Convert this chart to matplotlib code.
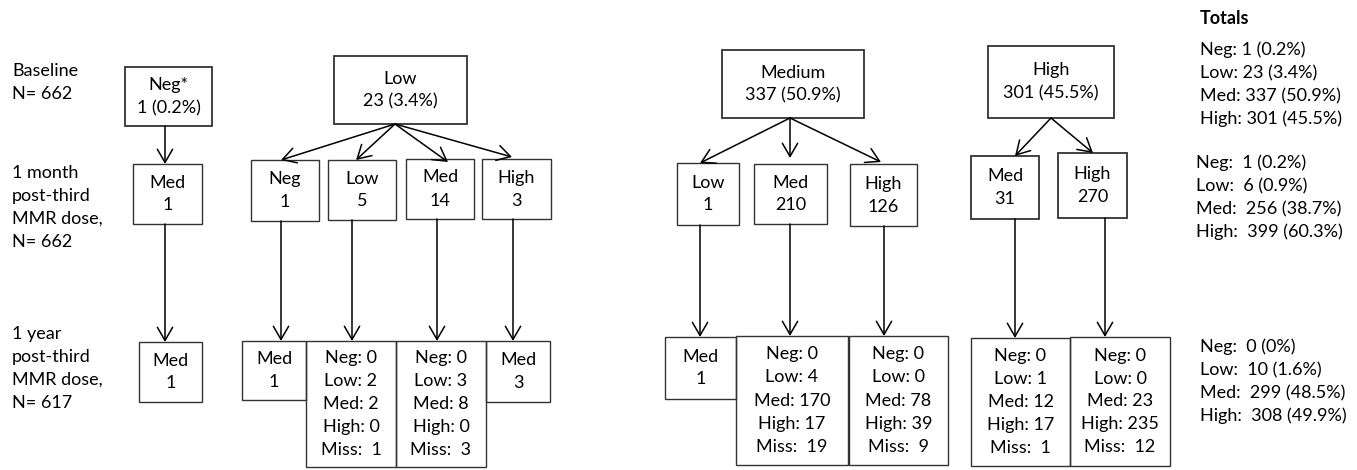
import matplotlib.pyplot as plt
from matplotlib.patches import Rectangle

plt.rcParams['font.family'] = ['Lato', 'DejaVu Sans']

# ---- data ----
base_labels = ["Neg*", "Low", "Medium", "High"]
base_counts = [1, 23, 337, 301]
base_pcts = ["0.2", "3.4", "50.9", "45.5"]

month_labels = [["Med"], ["Neg", "Low", "Med", "High"], ["Low", "Med", "High"], ["Med", "High"]]
month_counts = [[1], [1, 5, 14, 3], [1, 210, 126], [31, 270]]

cats = ["Neg", "Low", "Med", "High", "Miss"]
# one-year outcome per 1-month box: either a single category or a breakdown
year_outcomes = [
    [("Med", 1)],
    [("Med", 1), [0, 2, 2, 0, 1], [0, 3, 8, 0, 3], ("Med", 3)],
    [("Med", 1), [0, 4, 170, 17, 19], [0, 0, 78, 39, 9]],
    [[0, 1, 12, 17, 1], [0, 0, 23, 235, 12]],
]

tot_cats = ["Neg", "Low", "Med", "High"]
tot_base = [1, 23, 337, 301]
tot_base_pct = ["0.2", "3.4", "50.9", "45.5"]
tot_month = [1, 6, 256, 399]
tot_month_pct = ["0.2", "0.9", "38.7", "60.3"]
tot_year = [0, 10, 299, 308]
tot_year_pct = ["0", "1.6", "48.5", "49.9"]

row_labels = [["Baseline", "N= 662"],
              ["1 month", "post-third", "MMR dose,", "N= 662"],
              ["1 year", "post-third", "MMR dose,", "N= 617"]]

# ---- layout (pixel coords, y down) ----
base_boxes = [(125, 67, 212, 126), (334, 56, 467, 124), (722, 50, 864, 118), (988, 46, 1114, 118)]
month_boxes = [
    [(133, 164, 202, 224)],
    [(251, 160, 319, 221), (328, 160, 396, 220), (406, 159, 474, 219), (482, 159, 551, 219)],
    [(677, 163, 739, 225), (754, 164, 827, 224), (850, 164, 917, 226)],
    [(971, 156, 1039, 219), (1058, 153, 1127, 218)],
]
year_boxes = [
    [(139, 342, 202, 402)],
    [(242, 341, 306, 400), (306, 341, 396, 467), (396, 341, 486, 467), (486, 341, 550, 402)],
    [(665, 337, 736, 399), (736, 336, 848, 465), (849, 336, 948, 465)],
    [(971, 338, 1070, 466), (1070, 337, 1170, 466)],
]
base_arrow_src = [(165, 126), (395, 124), (790, 118), (1051, 118)]
month_arrow_tip = [
    [(165, 164)],
    [(281, 160), (356, 160), (448, 162), (512, 157)],
    [(700, 163), (790, 158), (881, 162)],
    [(1015, 156), (1093, 153)],
]
down_x = [[165], [281, 352, 437, 513], [700, 790, 884], [1015, 1105]]

W, H = 1357, 470
fig = plt.figure(figsize=(W / 100, H / 100), dpi=100)
ax = fig.add_axes([0, 0, 1, 1])
ax.set_xlim(0, W)
ax.set_ylim(H, 0)
ax.axis('off')

FS = 13
STEP = 23.0
EC = '#333333'


def lines(x, y_first, texts, ha='left', **kw):
    for k, t in enumerate(texts):
        ax.text(x, y_first + k * STEP, t, ha=ha, va='center', fontsize=FS, **kw)


def box(b, texts, lw=1.0):
    x0, y0, x1, y1 = b
    ax.add_patch(Rectangle((x0, y0), x1 - x0, y1 - y0, fill=False, ec=EC, lw=lw))
    yc = (y0 + y1) / 2 - (len(texts) - 1) * STEP / 2
    lines((x0 + x1) / 2, yc, texts, ha='center')


def arrow(x0, y0, x1, y1):
    ax.annotate("", xy=(x1, y1), xytext=(x0, y0),
                arrowprops=dict(arrowstyle='->,head_length=0.95,head_width=0.55',
                                color='black', lw=1.1, shrinkA=0, shrinkB=0))


# baseline
for i, b in enumerate(base_boxes):
    box(b, [base_labels[i], f"{base_counts[i]} ({base_pcts[i]}%)"], lw=1.3)

# 1 month
for g in range(len(month_boxes)):
    sx, sy = base_arrow_src[g]
    for j, b in enumerate(month_boxes[g]):
        box(b, [month_labels[g][j], str(month_counts[g][j])], lw=1.3 if g == 3 else 1.0)
        tx, ty = month_arrow_tip[g][j]
        arrow(sx, sy, tx, ty)

# 1 year
for g in range(len(year_boxes)):
    for j, b in enumerate(year_boxes[g]):
        out = year_outcomes[g][j]
        if isinstance(out, tuple):
            txt = [out[0], str(out[1])]
        else:
            txt = [f"{c}: {'' if c != 'Miss' else ' '}{v}" for c, v in zip(cats, out)]
        box(b, txt)
        x = down_x[g][j]
        arrow(x, month_boxes[g][j][3], x, b[1])

# row labels
lines(12, 71, row_labels[0])
lines(12, 173, row_labels[1])
lines(12, 334, row_labels[2])

# totals
ax.text(1200, 18, "Totals", ha='left', va='center', fontsize=FS, fontweight='bold')
lines(1200, 50, [f"{c}: {v} ({p}%)" for c, v, p in zip(tot_cats, tot_base, tot_base_pct)])
lines(1196, 163, [f"{c}:  {v} ({p}%)" for c, v, p in zip(tot_cats, tot_month, tot_month_pct)])
lines(1200, 347, [f"{c}:  {v} ({p}%)" for c, v, p in zip(tot_cats, tot_year, tot_year_pct)])

fig.savefig("out.png", dpi=100)
